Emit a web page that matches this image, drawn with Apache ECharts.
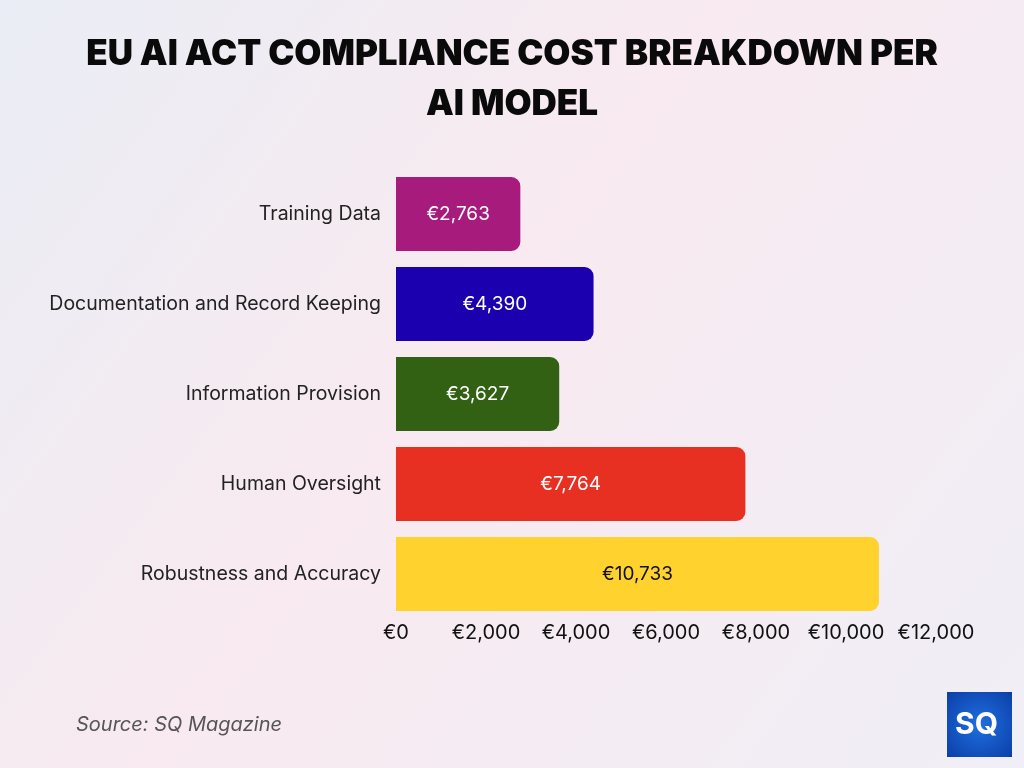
<!DOCTYPE html>
<html>
<head>
<meta charset="utf-8">
<script src="https://cdn.jsdelivr.net/npm/echarts@6/dist/echarts.min.js"></script>
<style>
html, body { margin: 0; padding: 0; }
#chart { width: 1024px; height: 768px; }
</style>
</head>
<body>
<div id="chart"></div>
<script>
// data
var categories = ['Training Data', 'Documentation and Record Keeping', 'Information Provision', 'Human Oversight', 'Robustness and Accuracy'];
var costs = [2763, 4390, 3627, 7764, 10733];
var barColors = ['#A61B7B', '#1A00AE', '#336114', '#E83022', '#FFD22E'];
var labelColors = ['#ffffff', '#ffffff', '#ffffff', '#ffffff', '#111111'];

function euro(v) {
    return '€' + v.toLocaleString('en-US');
}

var myChart = echarts.init(document.getElementById('chart'));

var option = {
    backgroundColor: {
        type: 'linear', x: 0, y: 0, x2: 1, y2: 1,
        colorStops: [
            { offset: 0, color: '#eaedf5' },
            { offset: 0.45, color: '#f8eaf0' },
            { offset: 1, color: '#f0eef6' }
        ]
    },
    title: {
        text: 'EU AI ACT COMPLIANCE COST BREAKDOWN PER\nAI MODEL',
        left: 'center',
        top: 24,
        textStyle: {
            fontFamily: 'Inter',
            fontWeight: 900,
            fontSize: 35,
            lineHeight: 50,
            color: '#0a0a0a'
        }
    },
    grid: {
        left: 396,
        right: 88,
        top: 169,
        bottom: 149,
        containLabel: false
    },
    xAxis: {
        type: 'value',
        min: 0,
        max: 12000,
        interval: 2000,
        splitLine: { show: false },
        axisLine: { show: false },
        axisTick: { show: false },
        axisLabel: {
            formatter: euro,
            fontFamily: 'Inter',
            fontSize: 20,
            color: '#111',
            margin: 4
        }
    },
    yAxis: {
        type: 'category',
        inverse: true,
        data: categories,
        axisLine: { show: false },
        axisTick: { show: false },
        axisLabel: {
            fontFamily: 'Inter',
            fontSize: 19.5,
            color: '#222',
            margin: 15
        }
    },
    series: [{
        type: 'bar',
        barWidth: 74,
        data: costs.map(function(v, i) {
            return {
                value: v,
                itemStyle: { color: barColors[i], borderRadius: [0, 9, 9, 0] },
                label: { color: labelColors[i] }
            };
        }),
        label: {
            show: true,
            position: 'inside',
            fontFamily: 'Inter',
            fontSize: 19,
            formatter: function(p) { return euro(p.value); }
        }
    }],
    graphic: [{
        type: 'text',
        left: 76,
        top: 715,
        style: {
            text: 'Source: SQ Magazine',
            fontFamily: 'Inter',
            fontStyle: 'italic',
            fontSize: 20,
            fill: '#555'
        }
    }, {
        type: 'rect',
        left: 947,
        top: 692,
        shape: { width: 65, height: 65 },
        style: {
            fill: {
                type: 'radial', x: 0.5, y: 0.5, r: 0.7,
                colorStops: [{ offset: 0, color: '#1f6fe0' }, { offset: 1, color: '#0b3fa8' }]
            }
        }
    }, {
        type: 'text',
        left: 955,
        top: 710,
        style: {
            text: 'SQ',
            fontFamily: 'Inter',
            fontWeight: 700,
            fontSize: 30,
            fill: '#ffffff'
        }
    }]
};

myChart.setOption(option);
</script>
</body>
</html>
